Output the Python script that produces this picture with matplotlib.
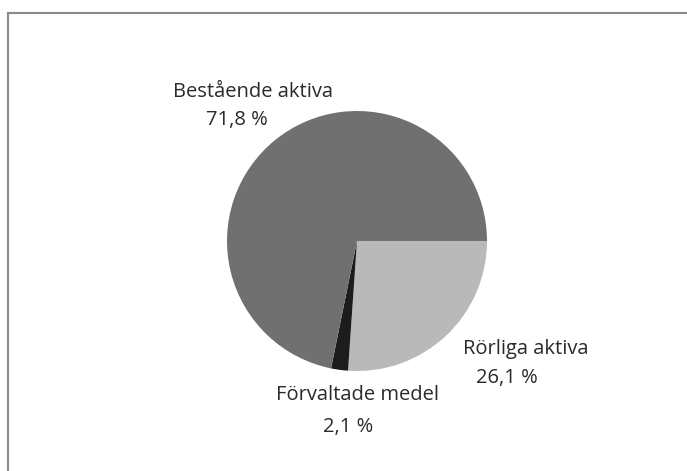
import matplotlib
matplotlib.use("Agg")
from matplotlib import pyplot as plt

labels = ["Rörliga aktiva", "Förvaltade medel", "Bestående aktiva"]
values = [26.1, 2.1, 71.8]
value_text = ["26,1 %", "2,1 %", "71,8 %"]
colors = ["#b9b9b9", "#1c1c1c", "#707070"]

plt.rcParams['font.family'] = ['Open Sans', 'DejaVu Sans']

W, H = 687, 471
fig = plt.figure(figsize=(6.87, 4.71), dpi=100)
ax = fig.add_axes([0, 0, 1, 1])
ax.set_xlim(0, W)
ax.set_ylim(0, H)
ax.set_aspect("equal")
ax.axis("off")

# pie, clockwise from 3 o'clock
ax.pie(values, colors=colors, startangle=0, counterclock=False,
       center=(357, H - 241), radius=130,
       wedgeprops=dict(linewidth=0))
ax.set_xlim(0, W)
ax.set_ylim(0, H)

# frame (only top and left edges visible in the crop)
ax.plot([8, W], [H - 13, H - 13], color="#8a8a8a", lw=1.5)
ax.plot([8, 8], [H - 13, 0], color="#8a8a8a", lw=1.5)

# labels (name line, value line)
pos = {
    0: ((526, H - 349), (507, H - 378)),
    1: ((358, H - 395), (348, H - 427)),
    2: ((253, H - 92), (237, H - 120)),
}
for i in range(3):
    (x1, y1), (x2, y2) = pos[i]
    ax.text(x1, y1, labels[i], ha="center", va="center", fontsize=14.5, color="#2a2a2a")
    ax.text(x2, y2, value_text[i], ha="center", va="center", fontsize=14.5, color="#2a2a2a")

fig.savefig("out.png", dpi=100)
